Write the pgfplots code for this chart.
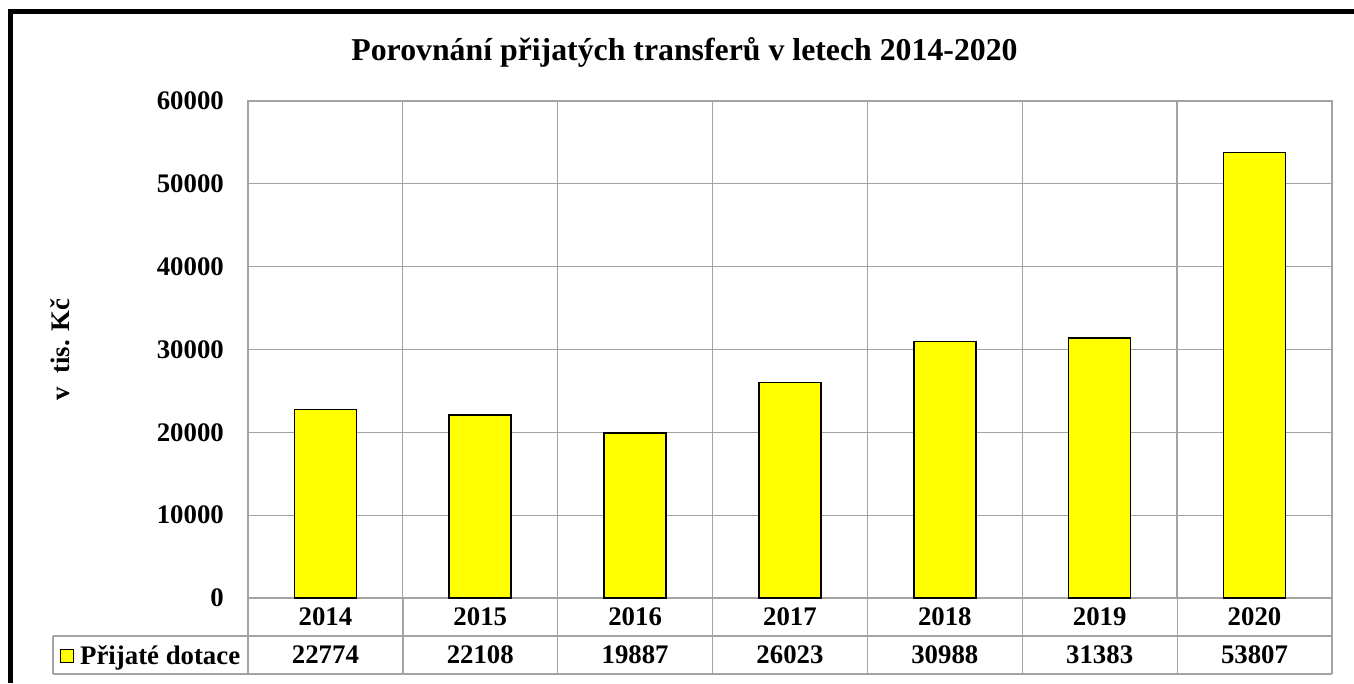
\documentclass[border=0pt]{standalone}
\usepackage{fontspec}
\setmainfont{Liberation Serif}
\usepackage{pgfplots}
\pgfplotsset{compat=1.18}
\definecolor{gridgray}{HTML}{A3A3A3}
\definecolor{baryellow}{HTML}{FFFF00}
\newcommand\tf{\fontsize{26.8}{30}\selectfont\bfseries}
\begin{document}
\begin{tikzpicture}
\path[use as bounding box] (0pt,0pt) rectangle (1354pt,683pt);
% outer frame (left and top)
\draw[line width=4.5pt,black] (10.5pt,0pt) -- (10.5pt,671.5pt) -- (1354pt,671.5pt);
% title
\node[anchor=base,font=\fontsize{31.8}{34}\selectfont\bfseries] at (684.5pt,622pt) {Porovnání přijatých transferů v letech 2014-2020};
\begin{axis}[
  at={(248pt,85pt)}, anchor=south west,
  width=1084pt, height=497pt, scale only axis,
  xmin=-0.5, xmax=6.5, ymin=0, ymax=60000,
  xtick={0,...,6},
  xticklabels={2014,2015,2016,2017,2018,2019,2020},
  minor xtick={0.5,1.5,...,5.5},
  ytick={0,10000,...,60000},
  scaled y ticks=false,
  /pgf/number format/fixed,
  /pgf/number format/1000 sep={},
  /pgf/number format/assume math mode=true,
  ymajorgrids, xminorgrids,
  grid style={gridgray,line width=1.3pt},
  minor grid style={gridgray,line width=1.3pt},
  axis line style={gridgray,line width=1.3pt},
  major tick length=0pt, minor tick length=0pt,
  tick style={draw=none},
  tick label style={font=\tf, inner sep=0pt},
  yticklabel style={anchor=east, xshift=-24pt},
  xticklabel style={anchor=center, yshift=-19pt},
  extra x ticks={0,...,6},
  extra x tick labels={22774,22108,19887,26023,30988,31383,53807},
  extra x tick style={grid=none, xticklabel style={yshift=-38pt}},
  ylabel={v\ \ tis. Kč},
  ylabel style={font=\tf, at={(axis description cs:-0.1734,0.5)}, anchor=center},
  legend style={at={(axis description cs:-0.0895,-0.1165)}, anchor=center, draw=none, fill=none, font=\tf, inner sep=0pt},
  legend image code/.code={\draw[fill=baryellow,draw=black,line width=1.4pt] (0pt,-6.5pt) rectangle (13pt,6.5pt);},
  clip=false,
]
\addplot[ybar, bar width=62pt, fill=baryellow, draw=black, line width=1.6pt] coordinates {
  (0,22774) (1,22108) (2,19887) (3,26023) (4,30988) (5,31383) (6,53807)
};
\addlegendentry{\hspace{4pt}Přijaté dotace}
\end{axis}
% data table lines
\begin{scope}[gridgray, line width=1.3pt]
\draw (53pt,47pt) -- (1332pt,47pt);
\draw (53pt,9pt) -- (1332pt,9pt);
\draw (53pt,47pt) -- (53pt,9pt);
\foreach \k in {0,...,7} {
  \draw ({248pt+\k*154.857pt},85pt) -- ({248pt+\k*154.857pt},9pt);
}
\end{scope}
\end{tikzpicture}
\end{document}
